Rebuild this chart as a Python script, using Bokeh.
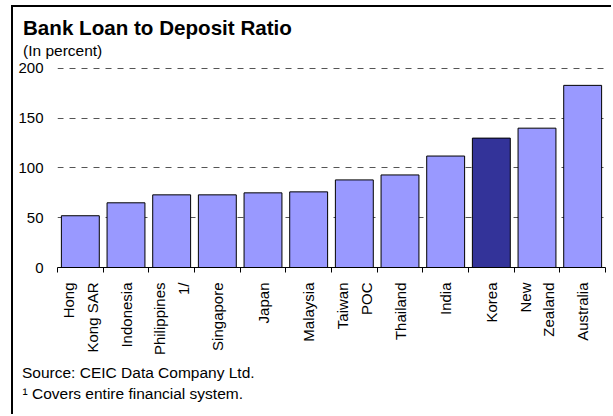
import numpy as np
from bokeh.plotting import figure
from bokeh.models import Range1d, FixedTicker, ColumnDataSource, Title
from bokeh.embed import file_html
from bokeh.resources import INLINE

# ---- data ----
countries = ["Hong Kong SAR", "Indonesia", "Philippines", "Singapore", "Japan", "Malaysia",
             "Taiwan POC", "Thailand", "India", "Korea", "New Zealand", "Australia"]
tick_labels = ["Hong\nKong SAR", "Indonesia", "Philippines\n1/", "Singapore", "Japan", "Malaysia",
               "Taiwan\nPOC", "Thailand", "India", "Korea", "New\nZealand", "Australia"]
ratios = [52, 65, 73, 73, 75, 76, 88, 93, 112, 130, 140, 183]
y_ticks = [0, 50, 100, 150, 200]
highlight = "Korea"

BAR = "#9999FF"
HIGHLIGHT = "#333399"
FONT = "Liberation Sans"

n = len(countries)
xpos = np.arange(n) + 0.5
colors = [HIGHLIGHT if c == highlight else BAR for c in countries]
src = ColumnDataSource(dict(x=xpos, top=ratios, color=colors, name=countries))

p = figure(width=600, height=409, x_range=Range1d(0, n), y_range=Range1d(0, 210),
           output_backend="svg", toolbar_location=None, title_location=None,
           min_border_left=44, min_border_right=8, min_border_top=51, min_border_bottom=149)
p.margin = (5, 0, 0, 11)
p.styles = {"border-top": "2px solid black", "border-left": "2px solid black"}
p.outline_line_color = None
p.background_fill_color = "white"
p.border_fill_color = "white"

p.vbar(x="x", top="top", bottom=0, width=0.83, fill_color="color", line_color="black",
       line_width=1, source=src)

# grid
p.xgrid.grid_line_color = None
p.ygrid.ticker = FixedTicker(ticks=y_ticks)
p.ygrid.grid_line_color = "#555555"
p.ygrid.grid_line_dash = "6 6"
p.ygrid.grid_line_width = 1

# y axis
yax = p.yaxis[0]
yax.ticker = FixedTicker(ticks=y_ticks)
yax.axis_line_color = None
yax.major_tick_line_color = None
yax.minor_tick_line_color = None
yax.major_tick_out = 0
yax.major_label_standoff = 14
yax.major_label_text_font = FONT
yax.major_label_text_font_size = "15px"
yax.major_label_text_color = "black"

# x axis
xax = p.xaxis[0]
xax.ticker = FixedTicker(ticks=list(xpos), minor_ticks=list(range(n + 1)))
xax.major_label_overrides = {float(x): lab for x, lab in zip(xpos, tick_labels)}
xax.axis_line_color = "black"
xax.major_tick_line_color = None
xax.major_tick_out = 0
xax.major_tick_in = 0
xax.minor_tick_line_color = "black"
xax.minor_tick_out = 5
xax.minor_tick_in = 0
xax.major_label_orientation = np.pi / 2
xax.major_label_standoff = 10
xax.major_label_text_font = FONT
xax.major_label_text_font_size = "15px"
xax.major_label_text_color = "black"
xax.major_label_text_line_height = 1.4

# titles / notes (first added = closest to the frame)
p.add_layout(Title(text="(In percent)", align="left", offset=-34.5, standoff=0,
                   text_font=FONT, text_font_size="15.5px", text_font_style="normal",
                   text_color="black"), "above")
p.add_layout(Title(text="Bank Loan to Deposit Ratio", align="left", offset=-34.5, standoff=2,
                   text_font=FONT, text_font_size="20.6px", text_font_style="bold",
                   text_color="black"), "above")
p.add_layout(Title(text="Source: CEIC Data Company Ltd.", align="left", offset=-35.5, standoff=7,
                   text_font=FONT, text_font_size="15.5px", text_font_style="normal",
                   text_color="black"), "below")
p.add_layout(Title(text="\u00b9 Covers entire financial system.", align="left", offset=-35,
                   standoff=-3, text_font=FONT, text_font_size="15.5px",
                   text_font_style="normal", text_color="black"), "below")

open("out.html", "w").write(file_html(p, INLINE))
